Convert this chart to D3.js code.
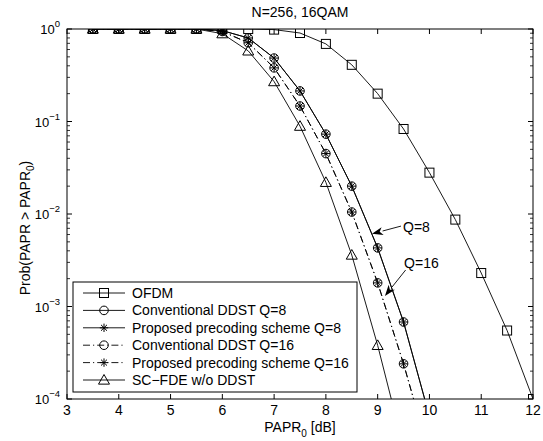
<!DOCTYPE html>
<html>
<head>
<meta charset="utf-8">
<script src="https://cdn.jsdelivr.net/npm/d3@7"></script>
<style>
  body { margin: 0; background: #fff; }
  text { font-family: "Liberation Sans", Arial, sans-serif; fill: #000; }
</style>
</head>
<body>
<div id="chart"></div>
<script>
// Data
const papr = [3.5, 4, 4.5, 5, 5.5, 6, 6.5, 7, 7.5, 8, 8.5, 9, 9.5, 10, 10.5, 11, 11.5, 12];
const ofdm    = [1, 1, 1, 1, 1, 1, 0.999, 0.985, 0.905, 0.69, 0.41, 0.20, 0.083, 0.028, 0.0087, 0.0023, 5.5e-4, 1.0e-4];
const ddstQ8  = [1, 1, 1, 1, 1, 0.96, 0.80, 0.485, 0.214, 0.073, 0.020, 0.0043, 6.8e-4, 6.5e-5];
const precQ8  = [1, 1, 1, 1, 1, 0.96, 0.80, 0.485, 0.214, 0.073, 0.020, 0.0043, 6.8e-4, 6.5e-5];
const ddstQ16 = [1, 1, 1, 1, 1, 0.94, 0.71, 0.38, 0.147, 0.045, 0.0105, 0.0018, 2.4e-4, 2.5e-5];
const precQ16 = [1, 1, 1, 1, 1, 0.94, 0.71, 0.38, 0.147, 0.045, 0.0105, 0.0018, 2.4e-4, 2.5e-5];
const scfde   = [1, 1, 1, 1, 1, 0.89, 0.58, 0.27, 0.089, 0.022, 0.0036, 3.8e-4, 3e-5];

const xTicks = [3, 4, 5, 6, 7, 8, 9, 10, 11, 12];
const yDecades = [0, -1, -2, -3, -4];

const series = [
  { name: "OFDM",                             values: ofdm,    marker: "square",   dash: null },
  { name: "Conventional DDST Q=8",            values: ddstQ8,  marker: "circle",   dash: null },
  { name: "Proposed precoding scheme Q=8",    values: precQ8,  marker: "asterisk", dash: null },
  { name: "Conventional DDST Q=16",           values: ddstQ16, marker: "circle",   dash: "7,3,1.2,3" },
  { name: "Proposed precoding scheme Q=16",   values: precQ16, marker: "asterisk", dash: "7,3,1.2,3" },
  { name: "SC\u2212FDE w/o DDST",             values: scfde,   marker: "triangle", dash: null }
];

// annotations in data coords: text anchor, arrow tail, arrow tip
const notes = [
  { label: "Q=8",  tx: 9.49, ty: 0.0064, x1: 9.45, y1: 0.0074, x2: 8.89, y2: 0.0061 },
  { label: "Q=16", tx: 9.51, ty: 0.0026, x1: 9.54, y1: 0.00248, x2: 9.14, y2: 0.0013 }
];

// Dimensions
const W = 543, H = 441;
const plot = { left: 67, right: 533, top: 29, bottom: 399 };

const x = d3.scaleLinear().domain([3, 12]).range([plot.left, plot.right]);
const y = d3.scaleLog().domain([1e-4, 1]).range([plot.bottom, plot.top]);

const svg = d3.select("#chart").append("svg")
  .attr("width", W).attr("height", H);

svg.append("defs").append("clipPath").attr("id", "clip")
  .append("rect")
  .attr("x", plot.left).attr("y", plot.top)
  .attr("width", plot.right - plot.left).attr("height", plot.bottom - plot.top);

// Marker drawing
function drawMarker(g, type, cx, cy) {
  if (type === "square") {
    g.append("rect").attr("x", cx - 4.5).attr("y", cy - 4.5)
      .attr("width", 9).attr("height", 9)
      .attr("fill", "none").attr("stroke", "#000").attr("stroke-width", 1);
  } else if (type === "circle") {
    g.append("circle").attr("cx", cx).attr("cy", cy).attr("r", 4.3)
      .attr("fill", "none").attr("stroke", "#000").attr("stroke-width", 1);
  } else if (type === "asterisk") {
    const r = 4.2, d = r * 0.7071;
    const p = `M${cx - r},${cy}H${cx + r}M${cx},${cy - r}V${cy + r}` +
              `M${cx - d},${cy - d}L${cx + d},${cy + d}M${cx - d},${cy + d}L${cx + d},${cy - d}`;
    g.append("path").attr("d", p).attr("stroke", "#000").attr("stroke-width", 1);
  } else if (type === "triangle") {
    const s = 5.5;
    g.append("path")
      .attr("d", `M${cx},${cy - s}L${cx + s},${cy + s * 0.75}L${cx - s},${cy + s * 0.75}Z`)
      .attr("fill", "none").attr("stroke", "#000").attr("stroke-width", 1);
  }
}

// Curves
const line = d3.line().x(d => x(d[0])).y(d => y(d[1]));
const plotG = svg.append("g").attr("clip-path", "url(#clip)");

series.forEach(s => {
  const pts = s.values.map((v, i) => [papr[i], v]);
  plotG.append("path")
    .datum(pts)
    .attr("d", line)
    .attr("fill", "none")
    .attr("stroke", "#000")
    .attr("stroke-width", 0.9)
    .attr("stroke-dasharray", s.dash);
  pts.forEach(p => {
    if (p[1] < 1e-4) return;
    drawMarker(plotG, s.marker, x(p[0]), y(p[1]));
  });
});

// Axes box
svg.append("rect")
  .attr("x", plot.left).attr("y", plot.top)
  .attr("width", plot.right - plot.left).attr("height", plot.bottom - plot.top)
  .attr("fill", "none").attr("stroke", "#000").attr("stroke-width", 1);

// X ticks (inside, top and bottom)
xTicks.forEach(t => {
  const px = x(t);
  svg.append("line").attr("x1", px).attr("x2", px)
    .attr("y1", plot.bottom).attr("y2", plot.bottom - 5).attr("stroke", "#000");
  svg.append("line").attr("x1", px).attr("x2", px)
    .attr("y1", plot.top).attr("y2", plot.top + 5).attr("stroke", "#000");
  svg.append("text").attr("x", px).attr("y", 415)
    .attr("text-anchor", "middle").style("font-size", "14px").text(t);
});

// Y ticks (log, major + minor)
yDecades.forEach(e => {
  const py = y(Math.pow(10, e));
  [[plot.left, 5], [plot.right, -5]].forEach(([x0, len]) => {
    svg.append("line").attr("x1", x0).attr("x2", x0 + len)
      .attr("y1", py).attr("y2", py).attr("stroke", "#000");
  });
  const lab = svg.append("text").attr("x", 60).attr("y", py + 5)
    .attr("text-anchor", "end").style("font-size", "13px");
  lab.append("tspan").text("10");
  lab.append("tspan").attr("dy", -7).style("font-size", "9.5px").text(e === 0 ? "0" : "\u2212" + (-e));
  if (e > -4) {
    for (let m = 2; m <= 9; m++) {
      const my = y(m * Math.pow(10, e - 1));
      [[plot.left, 3], [plot.right, -3]].forEach(([x0, len]) => {
        svg.append("line").attr("x1", x0).attr("x2", x0 + len)
          .attr("y1", my).attr("y2", my).attr("stroke", "#000").attr("stroke-width", 0.8);
      });
    }
  }
});

// Title and axis labels
svg.append("text").attr("x", (plot.left + plot.right) / 2).attr("y", 17)
  .attr("text-anchor", "middle").style("font-size", "14px").text("N=256, 16QAM");

const xl = svg.append("text").attr("x", (plot.left + plot.right) / 2).attr("y", 432)
  .attr("text-anchor", "middle").style("font-size", "14px");
xl.append("tspan").text("PAPR");
xl.append("tspan").attr("dy", 5).style("font-size", "10px").text("0");
xl.append("tspan").attr("dy", -5).text(" [dB]");

const yl = svg.append("text")
  .attr("transform", `translate(30,228) rotate(-90)`)
  .attr("text-anchor", "middle").style("font-size", "14px");
yl.append("tspan").text("Prob(PAPR > PAPR");
yl.append("tspan").attr("dy", 4).style("font-size", "10px").text("0");
yl.append("tspan").attr("dy", -4).text(")");

// Annotations with arrows
notes.forEach(n => {
  const x1 = x(n.x1), y1 = y(n.y1), x2 = x(n.x2), y2 = y(n.y2);
  const ang = Math.atan2(y2 - y1, x2 - x1);
  const L = 11, Wd = 4;
  const bx = x2 - L * Math.cos(ang), by = y2 - L * Math.sin(ang);
  svg.append("line").attr("x1", x1).attr("y1", y1).attr("x2", bx).attr("y2", by)
    .attr("stroke", "#000").attr("stroke-width", 0.9);
  svg.append("path")
    .attr("d", `M${x2},${y2}L${bx + Wd * Math.sin(ang)},${by - Wd * Math.cos(ang)}` +
               `L${bx + 3 * Math.cos(ang)},${by + 3 * Math.sin(ang)}` +
               `L${bx - Wd * Math.sin(ang)},${by + Wd * Math.cos(ang)}Z`)
    .attr("fill", "#000");
  svg.append("text").attr("x", x(n.tx)).attr("y", y(n.ty))
    .style("font-size", "14px").text(n.label);
});

// Legend
const leg = { x: 73, y: 282, w: 284, h: 110, row: 17.4 };
svg.append("rect").attr("x", leg.x).attr("y", leg.y)
  .attr("width", leg.w).attr("height", leg.h)
  .attr("fill", "#fff").attr("stroke", "#000").attr("stroke-width", 1);
series.forEach((s, i) => {
  const ry = leg.y + 11 + i * leg.row;
  svg.append("line").attr("x1", 83).attr("x2", 125).attr("y1", ry).attr("y2", ry)
    .attr("stroke", "#000").attr("stroke-width", 0.9).attr("stroke-dasharray", s.dash);
  drawMarker(svg, s.marker, 104, ry);
  svg.append("text").attr("x", 132).attr("y", ry + 5)
    .style("font-size", "14px").text(s.name);
});
</script>
</body>
</html>
